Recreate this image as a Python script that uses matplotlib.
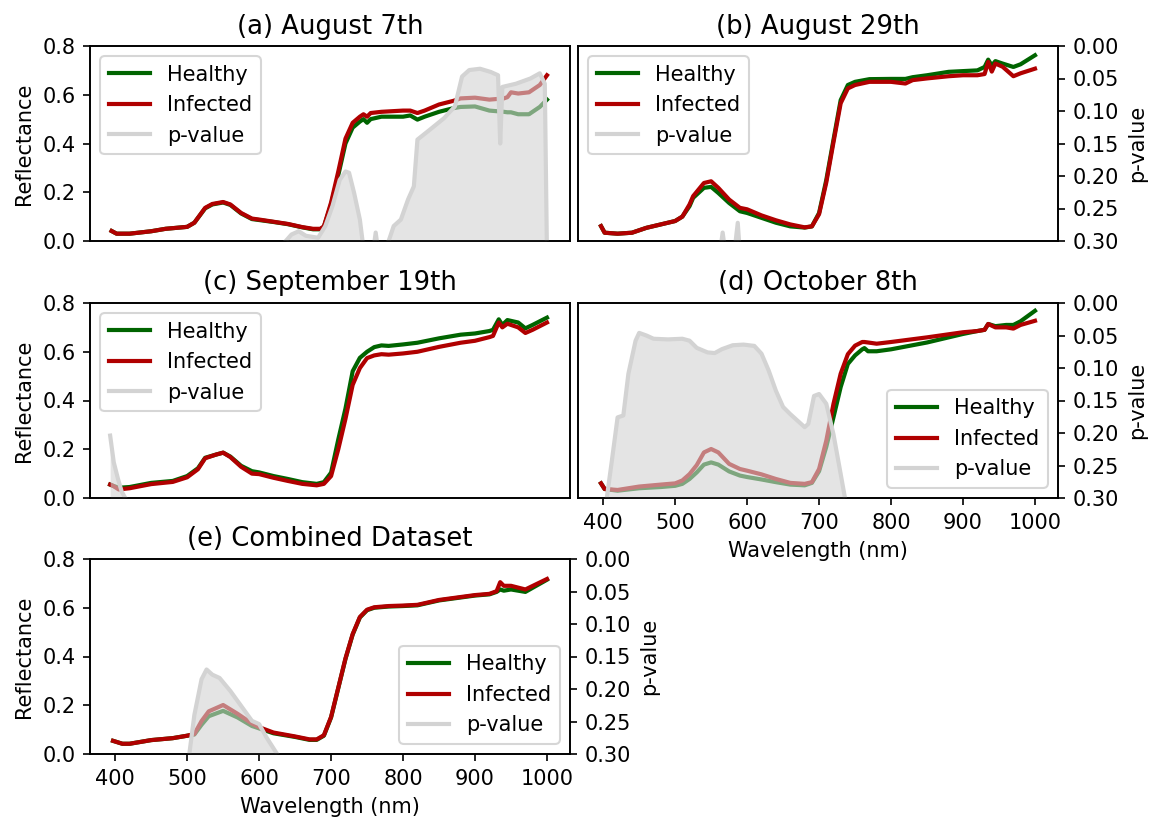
import matplotlib
matplotlib.use("Agg")
import matplotlib.pyplot as plt

# ---------------- data ----------------
titles = ["(a) August 7th", "(b) August 29th", "(c) September 19th",
          "(d) October 8th", "(e) Combined Dataset"]
xticks = [400, 500, 600, 700, 800, 900, 1000]
p_ticks = [0.00, 0.05, 0.10, 0.15, 0.20, 0.25, 0.30]
r_ticks = [0.0, 0.2, 0.4, 0.6, 0.8]

wl_a = [395, 402, 420, 450, 470, 500, 510, 525, 535, 550, 560, 575, 590, 600, 620, 640, 660, 675, 685, 690,
        700, 710, 720, 730, 740, 745, 750, 755, 770, 800, 810, 820, 830, 850, 870, 880, 900, 920, 940, 945,
        950, 960, 975, 990, 1000]
healthy_a = [0.041, 0.030, 0.030, 0.040, 0.050, 0.058, 0.075, 0.134, 0.150, 0.158, 0.148, 0.113, 0.090, 0.086,
             0.078, 0.069, 0.056, 0.048, 0.048, 0.058, 0.150, 0.270, 0.400, 0.465, 0.490, 0.500, 0.485, 0.500,
             0.510, 0.510, 0.515, 0.498, 0.510, 0.530, 0.545, 0.550, 0.552, 0.535, 0.530, 0.528, 0.528, 0.520,
             0.520, 0.550, 0.580]
infected_a = [0.041, 0.030, 0.030, 0.040, 0.050, 0.058, 0.075, 0.136, 0.152, 0.160, 0.150, 0.115, 0.092, 0.088,
              0.079, 0.070, 0.057, 0.050, 0.050, 0.060, 0.158, 0.285, 0.420, 0.485, 0.510, 0.520, 0.510, 0.525,
              0.530, 0.535, 0.535, 0.525, 0.535, 0.560, 0.575, 0.585, 0.588, 0.580, 0.585, 0.590, 0.610, 0.605,
              0.610, 0.640, 0.680]
pwl_a = [637, 645, 655, 665, 682, 692, 702, 712, 720, 725, 732, 740, 746, 758, 762, 766, 780, 787, 797, 807,
         815, 820, 837, 857, 872, 882, 892, 907, 922, 932, 935, 938, 957, 977, 990, 997, 1000]
pval_a = [0.30, 0.29, 0.285, 0.292, 0.295, 0.277, 0.246, 0.206, 0.193, 0.195, 0.226, 0.267, 0.32, 0.32, 0.287,
          0.32, 0.30, 0.277, 0.267, 0.236, 0.216, 0.144, 0.129, 0.111, 0.093, 0.047, 0.037, 0.035, 0.040, 0.045,
          0.150, 0.063, 0.058, 0.050, 0.042, 0.058, 0.32]

wl_b = [397, 402, 420, 440, 460, 480, 500, 510, 520, 525, 540, 550, 560, 575, 590, 600, 620, 640, 660, 680,
        690, 700, 710, 720, 730, 740, 750, 770, 800, 820, 830, 850, 880, 900, 920, 930, 935, 940, 945, 955,
        970, 980, 1000]
healthy_b = [0.061, 0.034, 0.030, 0.034, 0.054, 0.068, 0.082, 0.100, 0.143, 0.177, 0.218, 0.222, 0.197, 0.156,
             0.122, 0.115, 0.095, 0.075, 0.060, 0.055, 0.060, 0.115, 0.250, 0.415, 0.578, 0.640, 0.653, 0.664,
             0.665, 0.665, 0.672, 0.680, 0.694, 0.697, 0.700, 0.714, 0.744, 0.720, 0.738, 0.728, 0.714, 0.725,
             0.762]
infected_b = [0.061, 0.034, 0.030, 0.034, 0.054, 0.068, 0.082, 0.100, 0.150, 0.184, 0.238, 0.245, 0.218, 0.170,
              0.136, 0.130, 0.105, 0.085, 0.068, 0.056, 0.060, 0.110, 0.240, 0.405, 0.565, 0.626, 0.640, 0.653,
              0.653, 0.646, 0.660, 0.667, 0.676, 0.680, 0.680, 0.685, 0.735, 0.695, 0.728, 0.715, 0.676, 0.688,
              0.707]
pwl_b = [562, 566, 570, 582, 587, 590]
pval_b = [0.32, 0.287, 0.32, 0.32, 0.272, 0.32]

wl_c = [393, 397, 405, 420, 450, 480, 500, 515, 525, 540, 550, 560, 575, 590, 600, 620, 640, 660, 680, 690,
        700, 710, 720, 730, 740, 750, 760, 770, 780, 800, 820, 850, 880, 900, 920, 925, 933, 938, 945, 960,
        970, 980, 1000]
healthy_c = [0.055, 0.050, 0.042, 0.045, 0.062, 0.070, 0.090, 0.122, 0.165, 0.178, 0.186, 0.170, 0.132, 0.110,
             0.105, 0.090, 0.078, 0.065, 0.058, 0.065, 0.104, 0.240, 0.367, 0.520, 0.575, 0.600, 0.619, 0.626,
             0.624, 0.630, 0.637, 0.655, 0.670, 0.675, 0.685, 0.690, 0.733, 0.710, 0.730, 0.720, 0.696, 0.710,
             0.740]
infected_c = [0.055, 0.050, 0.035, 0.040, 0.057, 0.066, 0.085, 0.118, 0.163, 0.178, 0.186, 0.168, 0.128, 0.100,
              0.098, 0.083, 0.070, 0.058, 0.052, 0.058, 0.090, 0.200, 0.325, 0.464, 0.533, 0.574, 0.585, 0.590,
              0.588, 0.593, 0.600, 0.620, 0.637, 0.645, 0.660, 0.665, 0.720, 0.700, 0.715, 0.700, 0.677, 0.690,
              0.720]
pwl_c = [393, 398, 404, 409, 414]
pval_c = [0.204, 0.245, 0.271, 0.290, 0.30]

wl_d = [397, 402, 420, 450, 480, 500, 510, 520, 530, 540, 550, 560, 575, 590, 600, 620, 640, 660, 680, 690,
        700, 710, 720, 730, 740, 750, 760, 763, 768, 780, 800, 850, 900, 920, 930, 935, 945, 960, 970, 980, 1000]
healthy_d = [0.060, 0.037, 0.030, 0.040, 0.045, 0.050, 0.058, 0.078, 0.105, 0.137, 0.146, 0.137, 0.109, 0.092,
             0.086, 0.076, 0.065, 0.055, 0.052, 0.062, 0.110, 0.210, 0.331, 0.455, 0.550, 0.585, 0.610, 0.615,
             0.602, 0.602, 0.610, 0.638, 0.673, 0.685, 0.690, 0.714, 0.705, 0.710, 0.710, 0.725, 0.768]
infected_d = [0.060, 0.037, 0.033, 0.047, 0.055, 0.060, 0.072, 0.098, 0.135, 0.187, 0.201, 0.187, 0.140, 0.119,
              0.112, 0.097, 0.078, 0.062, 0.058, 0.065, 0.119, 0.235, 0.386, 0.510, 0.590, 0.625, 0.640, 0.640,
              0.638, 0.633, 0.640, 0.659, 0.680, 0.685, 0.690, 0.714, 0.700, 0.700, 0.695, 0.710, 0.727]
pwl_d = [405, 412, 420, 428, 435, 445, 450, 460, 470, 490, 510, 520, 530, 545, 555, 565, 580, 595, 610, 620,
         630, 640, 650, 660, 670, 680, 685, 693, 700, 710, 720, 730, 736]
pval_d = [0.30, 0.243, 0.176, 0.173, 0.109, 0.058, 0.046, 0.050, 0.055, 0.056, 0.055, 0.058, 0.069, 0.076,
          0.077, 0.071, 0.065, 0.064, 0.066, 0.078, 0.104, 0.135, 0.160, 0.171, 0.181, 0.191, 0.186, 0.143,
          0.140, 0.155, 0.202, 0.263, 0.30]

wl_e = [397, 410, 420, 450, 480, 500, 510, 520, 530, 550, 570, 590, 600, 620, 650, 670, 680, 690, 700, 710,
        720, 730, 740, 750, 760, 780, 800, 820, 850, 900, 920, 930, 935, 940, 950, 970, 1000]
healthy_e = [0.054, 0.042, 0.042, 0.057, 0.065, 0.075, 0.080, 0.120, 0.155, 0.177, 0.150, 0.115, 0.105, 0.085,
             0.070, 0.058, 0.058, 0.075, 0.150, 0.270, 0.390, 0.490, 0.560, 0.590, 0.600, 0.605, 0.607, 0.610,
             0.630, 0.650, 0.655, 0.665, 0.675, 0.670, 0.675, 0.665, 0.715]
infected_e = [0.054, 0.042, 0.042, 0.057, 0.065, 0.075, 0.082, 0.135, 0.175, 0.201, 0.165, 0.125, 0.110, 0.088,
              0.072, 0.060, 0.060, 0.077, 0.152, 0.272, 0.392, 0.492, 0.562, 0.592, 0.602, 0.607, 0.609, 0.612,
              0.632, 0.652, 0.657, 0.668, 0.705, 0.690, 0.690, 0.675, 0.718]
pwl_e = [503, 510, 520, 527, 535, 545, 560, 575, 590, 600, 610, 625]
pval_e = [0.30, 0.24, 0.185, 0.170, 0.178, 0.183, 0.203, 0.226, 0.249, 0.254, 0.274, 0.30]

# ---------------- figure ----------------
DPI = 150
fig = plt.figure(figsize=(1156 / DPI, 820 / DPI), dpi=DPI)

C_H = "#006400"
C_I = "#b00000"
C_P = "lightgray"
LW = 2.0

W = 480 / 1156
H = 195 / 820
XL = 90 / 1156
XR = 578 / 1156
rows = [1 - 241 / 820, 1 - 498 / 820, 1 - 754 / 820]

panels = [
    dict(pos=(XL, rows[0]), wl=wl_a, h=healthy_a, i=infected_a, pwl=pwl_a, p=pval_a, col="L", xl=False, leg="upper left"),
    dict(pos=(XR, rows[0]), wl=wl_b, h=healthy_b, i=infected_b, pwl=pwl_b, p=pval_b, col="R", xl=False, leg="upper left"),
    dict(pos=(XL, rows[1]), wl=wl_c, h=healthy_c, i=infected_c, pwl=pwl_c, p=pval_c, col="L", xl=False, leg="upper left"),
    dict(pos=(XR, rows[1]), wl=wl_d, h=healthy_d, i=infected_d, pwl=pwl_d, p=pval_d, col="R", xl=True, leg="lower right"),
    dict(pos=(XL, rows[2]), wl=wl_e, h=healthy_e, i=infected_e, pwl=pwl_e, p=pval_e, col="E", xl=True, leg="lower right"),
]

for k, pnl in enumerate(panels):
    ax = fig.add_axes([pnl["pos"][0], pnl["pos"][1], W, H])
    l1, = ax.plot(pnl["wl"], pnl["h"], color=C_H, lw=LW, label="Healthy")
    l2, = ax.plot(pnl["wl"], pnl["i"], color=C_I, lw=LW, label="Infected")
    ax.set_xlim(365, 1032)
    ax.set_ylim(0, 0.8)
    ax.set_title(titles[k], fontsize=12.4)
    if pnl["col"] in ("L", "E"):
        ax.set_yticks(r_ticks)
        ax.set_ylabel("Reflectance")
    else:
        ax.set_yticks([])
    if pnl["xl"]:
        ax.set_xticks(xticks)
        ax.set_xlabel("Wavelength (nm)")
    else:
        ax.set_xticks([])

    ax2 = ax.twinx()
    l3, = ax2.plot(pnl["pwl"], pnl["p"], color=C_P, lw=LW, label="p-value")
    ax2.fill_between(pnl["pwl"], pnl["p"], 0.3, color=C_P, alpha=0.6, lw=0)
    ax2.set_ylim(0.3, 0.0)
    ax2.set_xlim(365, 1032)
    if pnl["col"] in ("R", "E"):
        ax2.set_yticks(p_ticks)
        ax2.set_yticklabels([f"{t:.2f}" for t in p_ticks])
        ax2.set_ylabel("p-value")
    else:
        ax2.set_yticks([])
    ax2.legend(handles=[l1, l2, l3], loc=pnl["leg"])

fig.savefig("out.png", dpi=DPI)
